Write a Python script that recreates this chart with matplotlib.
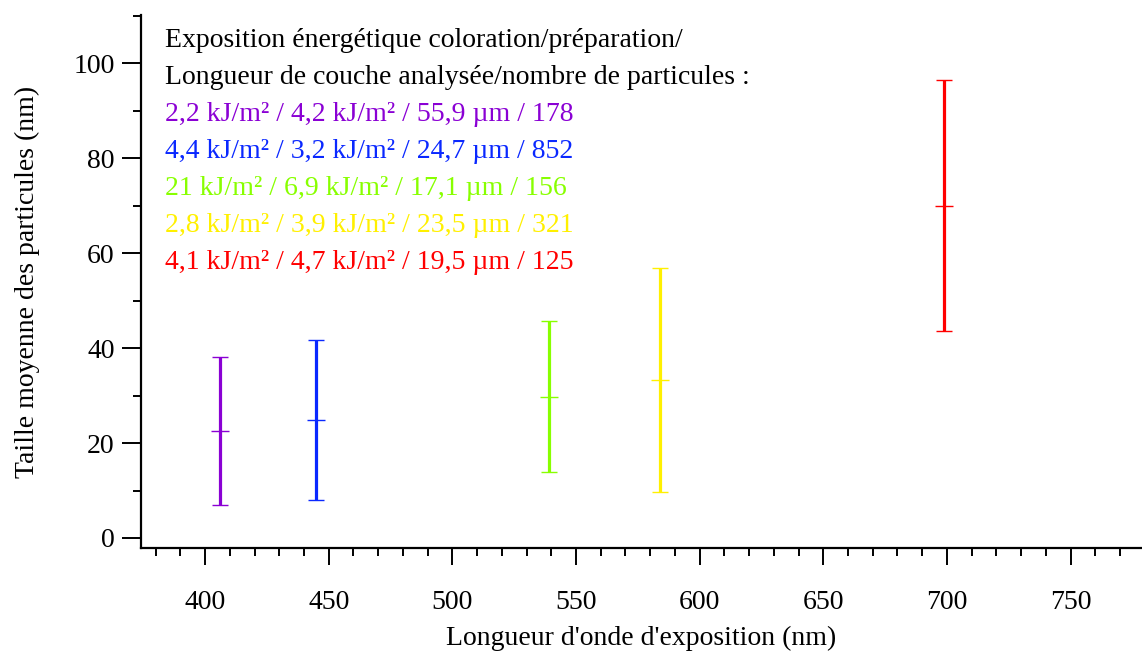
import numpy as np
import matplotlib
matplotlib.use('Agg')
import matplotlib.pyplot as plt
from matplotlib.ticker import MultipleLocator

# donnees
longueurs = [406, 445, 539, 584, 699]
moyennes = [22.6, 24.8, 29.7, 33.3, 70.0]
erreurs = [15.6, 16.8, 15.9, 23.6, 26.5]
couleurs = ['#8a00d4', '#0a28ff', '#88ff00', '#fff000', '#ff0000']
legendes = ['2,2 kJ/m² / 4,2 kJ/m² / 55,9 µm / 178',
            '4,4 kJ/m² / 3,2 kJ/m² / 24,7 µm / 852',
            '21 kJ/m² / 6,9 kJ/m² / 17,1 µm / 156',
            '2,8 kJ/m² / 3,9 kJ/m² / 23,5 µm / 321',
            '4,1 kJ/m² / 4,7 kJ/m² / 19,5 µm / 125']
titre = ['Exposition énergétique coloration/préparation/',
         'Longueur de couche analysée/nombre de particules :']

plt.rcParams['font.family'] = ['Liberation Serif', 'DejaVu Serif']

fig = plt.figure(figsize=(11.42, 6.55), dpi=100)
ax = fig.add_axes([0.1235, 0.1634, 0.8765, 0.8136])

for x, y, e, c in zip(longueurs, moyennes, erreurs, couleurs):
    ax.errorbar([x], [y], yerr=[e], color=c, elinewidth=2.3, capsize=6,
                capthick=2.3, marker='_', markersize=13.5, markeredgewidth=1.0,
                linestyle='none')

# texte en haut a gauche
yy = 0.953
for t in titre:
    ax.text(0.024, yy, t, transform=ax.transAxes, fontsize=20, color='black',
            va='center', ha='left')
    yy -= 0.0695
for t, c in zip(legendes, couleurs):
    ax.text(0.024, yy, t, transform=ax.transAxes, fontsize=20, color=c,
            va='center', ha='left')
    yy -= 0.0695

ax.set_xlim(374.1, 778.9)
ax.set_ylim(-2.1, 110.1)
ax.xaxis.set_major_locator(MultipleLocator(50))
ax.xaxis.set_minor_locator(MultipleLocator(10))
ax.yaxis.set_major_locator(MultipleLocator(20))
ax.yaxis.set_minor_locator(MultipleLocator(10))

ax.spines['top'].set_visible(False)
ax.spines['right'].set_visible(False)
ax.spines['left'].set_linewidth(1.6)
ax.spines['bottom'].set_linewidth(1.6)
ax.tick_params(which='major', direction='out', length=12, width=1.4,
               labelsize=20, pad=18)
ax.tick_params(which='minor', direction='out', length=6, width=1.4)
ax.tick_params(axis='y', which='major', length=14, pad=5)

ax.set_xlabel("Longueur d'onde d'exposition (nm)", fontsize=20, labelpad=8)
ax.set_ylabel('Taille moyenne des particules (nm)', fontsize=20, labelpad=24)

fig.savefig('out.png', dpi=100)
